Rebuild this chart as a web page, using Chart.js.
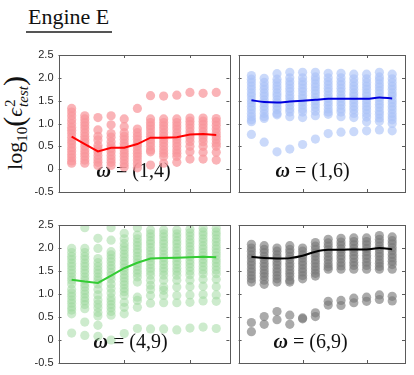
<!DOCTYPE html>
<html>
<head>
<meta charset="utf-8">
<script src="https://cdn.jsdelivr.net/npm/chart.js@4.4.0/dist/chart.umd.min.js"></script>
<style>
body { margin:0; background:#fff; }
#lienzo { position:relative; width:414px; height:375px; overflow:hidden; font-family:"Liberation Serif", serif; color:#111; }
canvas { position:absolute; }
#titulo { position:absolute; left:26px; top:4px; font-size:22px; line-height:26px; padding:0 3px 1px 2px; border-bottom:2px solid #555; }
#ejeY { position:absolute; left:18px; top:123px; width:0; height:0; }
#ejeY div { position:absolute; white-space:nowrap; font-size:22px; line-height:30px; transform:translate(-50%,-50%) rotate(-90deg); }
#ejeY sub { font-size:15px; vertical-align:-5px; }
.par { font-size:30px; vertical-align:-2px; }
.ss { display:inline-block; vertical-align:-6px; font-size:15px; line-height:13px; text-align:left; margin-left:1px; }
.ss span { display:block; }
</style>
</head>
<body>
<div id="lienzo">
  <div id="titulo">Engine E</div>
  <div id="ejeY"><div>log<sub>10</sub><span class="par">(</span><i>ϵ</i><span class="ss"><span>2</span><span><i>test</i></span></span><span class="par">)</span></div></div>
  <canvas id="g1" width="234" height="165" style="left:0;top:40px"></canvas>
  <canvas id="g2" width="180" height="165" style="left:234px;top:40px"></canvas>
  <canvas id="g3" width="234" height="165" style="left:0;top:210px"></canvas>
  <canvas id="g4" width="180" height="165" style="left:234px;top:210px"></canvas>
</div>
<script>
// Columnas (eje x) y marcas
const columnas = [1, 2, 3, 4, 5, 6, 7, 8, 9, 10, 11, 12];
const ticksY = [-0.5, 0, 0.5, 1, 1.5, 2, 2.5];
const ticksX = [5, 10];

// omega = (1,4)
const puntosRojo = [
    [1.33, 1.25, 1.17, 1.08, 1.0, 0.92, 0.85, 0.78, 0.7, 0.62, 0.55, 0.47, 0.4, 0.32, 0.25, 0.18, 0.13],
    [1.17, 1.1, 1.02, 0.95, 0.88, 0.8, 0.72, 0.65, 0.58, 0.5, 0.42, 0.35, 0.28, 0.2, 0.13],
    [1.13, 0.86, 0.72, 0.64, 0.52, 0.45, 0.38, 0.3, 0.22, 0.15, 0.08],
    [1.17, 0.97, 0.78, 0.7, 0.6, 0.52, 0.45, 0.38, 0.3, 0.22, 0.15, 0.08],
    [1.1, 0.93, 0.8, 0.72, 0.65, 0.57, 0.5, 0.42, 0.35, 0.28, 0.2, 0.12, 0.05],
    [1.33, 0.88, 0.8, 0.72, 0.65, 0.57, 0.5, 0.42, 0.35, 0.28, 0.2, 0.12, 0.03],
    [1.61, 1.1, 1.02, 0.95, 0.88, 0.8, 0.72, 0.65, 0.58, 0.5, 0.42, 0.38, 0.09],
    [1.6, 1.1, 1.02, 0.95, 0.88, 0.8, 0.72, 0.65, 0.58, 0.5, 0.42, 0.35, 0.28, 0.13],
    [1.62, 1.1, 1.02, 0.95, 0.88, 0.8, 0.72, 0.65, 0.58, 0.5, 0.42, 0.35, 0.28, 0.15],
    [1.68, 1.12, 1.05, 0.98, 0.9, 0.82, 0.75, 0.68, 0.6, 0.5, 0.38, 0.22],
    [1.66, 1.12, 1.05, 0.98, 0.9, 0.82, 0.75, 0.68, 0.6, 0.5, 0.37, 0.22],
    [1.68, 1.11, 1.04, 0.96, 0.88, 0.8, 0.72, 0.65, 0.57, 0.5, 0.37, 0.2]
];
const lineaRojo = [0.71, 0.55, 0.39, 0.47, 0.47, 0.55, 0.69, 0.69, 0.7, 0.76, 0.77, 0.75];

// omega = (1,6)
const puntosAzul = [
    [2.05, 1.97, 1.9, 1.82, 1.75, 1.67, 1.6, 1.52, 1.45, 1.37, 1.3, 1.22, 1.15, 1.08, 1.04, 0.76],
    [1.99, 1.9, 1.82, 1.75, 1.67, 1.6, 1.52, 1.45, 1.37, 1.3, 1.22, 1.15, 1.11, 0.59],
    [2.09, 1.97, 1.9, 1.82, 1.75, 1.67, 1.6, 1.52, 1.45, 1.37, 1.3, 1.22, 1.19, 0.38],
    [2.12, 2.0, 1.92, 1.85, 1.77, 1.7, 1.62, 1.55, 1.47, 1.4, 1.32, 1.25, 1.15, 0.44],
    [2.12, 2.0, 1.92, 1.85, 1.77, 1.7, 1.62, 1.55, 1.47, 1.4, 1.32, 1.25, 1.13, 0.54],
    [2.12, 2.02, 1.95, 1.87, 1.8, 1.72, 1.65, 1.57, 1.5, 1.42, 1.35, 1.27, 1.17, 0.66],
    [2.1, 2.0, 1.92, 1.85, 1.77, 1.7, 1.62, 1.55, 1.47, 1.4, 1.32, 1.25, 1.2, 0.78],
    [2.1, 2.0, 1.92, 1.85, 1.77, 1.7, 1.62, 1.55, 1.47, 1.4, 1.32, 1.25, 1.15, 0.81],
    [2.08, 1.98, 1.9, 1.82, 1.75, 1.67, 1.6, 1.52, 1.45, 1.37, 1.3, 1.22, 1.13, 0.82],
    [2.08, 1.98, 1.9, 1.82, 1.75, 1.67, 1.6, 1.52, 1.45, 1.37, 1.3, 1.22, 1.14, 1.04, 0.84],
    [2.12, 2.02, 1.95, 1.87, 1.8, 1.72, 1.65, 1.57, 1.5, 1.42, 1.35, 1.27, 1.2, 1.12, 1.05, 0.86],
    [2.08, 1.98, 1.9, 1.82, 1.75, 1.67, 1.6, 1.52, 1.45, 1.37, 1.3, 1.22, 1.15, 1.08, 1.0, 0.84]
];
const lineaAzul = [1.51, 1.47, 1.46, 1.48, 1.5, 1.52, 1.54, 1.54, 1.54, 1.54, 1.57, 1.55];

// omega = (4,9)
const puntosVerde = [
    [1.99, 1.9, 1.82, 1.75, 1.67, 1.6, 1.52, 1.45, 1.37, 1.3, 1.22, 1.1, 1.02, 0.95, 0.87, 0.8, 0.72, 0.65, 0.57, 0.15],
    [2.44, 1.99, 1.9, 1.82, 1.75, 1.67, 1.6, 1.52, 1.45, 1.37, 1.3, 1.22, 1.15, 1.07, 1.0, 0.92, 0.85, 0.77, 0.68, 0.39, 0.1],
    [2.21, 1.99, 1.77, 1.68, 1.6, 1.52, 1.45, 1.37, 1.3, 1.22, 1.1, 0.98, 0.87, 0.78, 0.7, 0.6, 0.52, 0.32, 0.08],
    [2.44, 2.17, 1.92, 1.85, 1.77, 1.7, 1.62, 1.55, 1.47, 1.4, 1.32, 1.22, 1.12, 1.02, 0.92, 0.85, 0.77, 0.7, 0.62, 0.54, 0.0],
    [2.32, 2.2, 2.1, 2.02, 1.95, 1.87, 1.8, 1.72, 1.65, 1.57, 1.5, 1.42, 1.35, 1.27, 1.2, 1.12, 1.05, 0.97, 0.82, 0.71, 0.57, 0.14],
    [2.44, 2.28, 2.2, 2.12, 2.05, 1.97, 1.9, 1.82, 1.75, 1.67, 1.6, 1.52, 1.45, 1.37, 1.26, 0.93, 0.86, 0.71, 0.25],
    [2.39, 2.31, 2.24, 2.16, 2.09, 2.01, 1.94, 1.86, 1.79, 1.71, 1.64, 1.56, 1.49, 1.41, 1.3, 1.19, 1.1, 0.97, 0.8, 0.24],
    [2.39, 2.31, 2.24, 2.16, 2.09, 2.01, 1.94, 1.86, 1.79, 1.71, 1.64, 1.56, 1.49, 1.41, 1.3, 1.15, 1.08, 0.97, 0.81, 0.24],
    [2.39, 2.31, 2.24, 2.16, 2.09, 2.01, 1.94, 1.86, 1.79, 1.71, 1.64, 1.56, 1.49, 1.41, 1.3, 1.15, 0.97, 0.81, 0.22],
    [2.41, 2.33, 2.26, 2.18, 2.11, 2.03, 1.96, 1.88, 1.81, 1.73, 1.66, 1.58, 1.5, 1.42, 1.3, 1.16, 0.98, 0.82, 0.26],
    [2.43, 2.35, 2.28, 2.2, 2.13, 2.05, 1.98, 1.9, 1.83, 1.75, 1.68, 1.6, 1.52, 1.44, 1.32, 1.17, 0.99, 0.85, 0.28],
    [2.43, 2.35, 2.28, 2.2, 2.13, 2.05, 1.98, 1.9, 1.83, 1.75, 1.68, 1.6, 1.52, 1.44, 1.32, 1.16, 0.98, 0.84, 0.25]
];
const lineaVerde = [1.31, 1.27, 1.24, 1.4, 1.56, 1.68, 1.77, 1.78, 1.79, 1.8, 1.81, 1.8];

// omega = (6,9)
const puntosGris = [
    [2.08, 2.0, 1.93, 1.85, 1.78, 1.7, 1.63, 1.55, 1.48, 1.4, 1.33, 1.26, 0.38, 0.18],
    [2.05, 1.97, 1.9, 1.82, 1.75, 1.67, 1.6, 1.52, 1.45, 1.38, 1.3, 1.21, 0.51, 0.34],
    [2.0, 1.93, 1.85, 1.78, 1.7, 1.63, 1.55, 1.48, 1.4, 1.33, 1.26, 0.62, 0.44],
    [2.05, 1.97, 1.9, 1.82, 1.75, 1.67, 1.6, 1.52, 1.45, 1.38, 1.3, 1.26, 0.54, 0.34],
    [2.0, 1.93, 1.85, 1.78, 1.7, 1.63, 1.55, 1.48, 1.4, 1.33, 0.48, 0.46],
    [2.12, 2.04, 1.97, 1.89, 1.82, 1.74, 1.67, 1.59, 1.52, 1.45, 1.39, 0.59, 0.51],
    [2.19, 2.11, 2.04, 1.96, 1.89, 1.81, 1.74, 1.66, 1.59, 1.54, 0.84, 0.76],
    [2.21, 2.13, 2.06, 1.98, 1.91, 1.83, 1.76, 1.68, 1.61, 1.54, 0.86, 0.75],
    [2.22, 2.14, 2.07, 1.99, 1.92, 1.84, 1.77, 1.69, 1.62, 1.54, 0.91, 0.81],
    [2.22, 2.14, 2.07, 1.99, 1.92, 1.84, 1.77, 1.69, 1.62, 1.54, 0.93, 0.84],
    [2.27, 2.19, 2.12, 2.04, 1.97, 1.89, 1.82, 1.74, 1.67, 1.6, 1.54, 0.98, 0.88],
    [2.24, 2.16, 2.09, 2.01, 1.94, 1.86, 1.79, 1.71, 1.64, 1.54, 0.95, 0.85]
];
const lineaGris = [1.81, 1.78, 1.77, 1.78, 1.83, 1.92, 1.96, 1.96, 1.97, 1.97, 2.0, 1.97];

document.addEventListener('DOMContentLoaded', function() {
    iniciarApp();
});

function iniciarApp() {
    graficarPanel('g1', puntosRojo, lineaRojo, 'rgba(248,150,155,0.72)', '#ff0000', '(1,4)', true, 38);
    graficarPanel('g2', puntosAzul, lineaAzul, 'rgba(170,194,247,0.62)', '#0000dd', '(1,6)', false, 37);
    graficarPanel('g3', puntosVerde, lineaVerde, 'rgba(155,215,155,0.5)', '#33cc33', '(4,9)', true, 35);
    graficarPanel('g4', puntosGris, lineaGris, 'rgba(120,120,120,0.63)', '#000000', '(6,9)', false, 35);
}

// Marco completo, marcas hacia adentro y la etiqueta omega
const marco = {
    id: 'marco',
    beforeDatasetsDraw(chart, args, opts) {
        const ctx = chart.ctx;
        const a = chart.chartArea;
        ctx.save();
        ctx.fillStyle = '#111';
        let x = a.left + opts.dx;
        const y = a.bottom - 15;
        ctx.font = 'bold italic 20px "Liberation Serif"';
        ctx.fillText('ω', x, y);
        x += ctx.measureText('ω').width;
        ctx.font = '20px "Liberation Serif"';
        ctx.fillText(' = ' + opts.texto, x, y);
        ctx.restore();
    },
    afterDraw(chart) {
        const ctx = chart.ctx;
        const a = chart.chartArea;
        const sx = chart.scales.x;
        const sy = chart.scales.y;
        ctx.save();
        ctx.strokeStyle = '#5a5a5a';
        ctx.lineWidth = 1;
        ctx.strokeRect(Math.round(a.left) + 0.5, Math.round(a.top) + 0.5,
            Math.round(a.right - a.left), Math.round(a.bottom - a.top));
        ctx.beginPath();
        ticksY.forEach(v => {
            const py = Math.round(sy.getPixelForValue(v)) + 0.5;
            ctx.moveTo(a.left, py); ctx.lineTo(a.left + 3, py);
            ctx.moveTo(a.right, py); ctx.lineTo(a.right - 3, py);
        });
        ticksX.forEach(v => {
            const px = Math.round(sx.getPixelForValue(v)) + 0.5;
            ctx.moveTo(px, a.top); ctx.lineTo(px, a.top + 3);
            ctx.moveTo(px, a.bottom); ctx.lineTo(px, a.bottom - 3);
        });
        ctx.stroke();
        ctx.restore();
    }
};

function graficarPanel(id, puntos, linea, colorPunto, colorLinea, texto, conEjeY, dx) {
    const datosPuntos = [];
    puntos.forEach((col, i) => {
        col.forEach(v => datosPuntos.push({ x: columnas[i], y: v }));
    });
    const datosLinea = linea.map((v, i) => ({ x: columnas[i], y: v }));
    const suave = (id === 'g2' || id === 'g4');

    const ejeY = {
        type: 'linear', min: -0.5, max: 2.5,
        display: conEjeY,
        grid: { display: false, drawTicks: false },
        border: { display: false },
        ticks: {
            stepSize: 0.5,
            padding: 5,
            color: '#262626',
            font: { family: 'Liberation Sans', size: 11 }
        }
    };
    if (conEjeY) {
        ejeY.afterFit = s => { s.width = 58.5; };
    }

    const ctx = document.getElementById(id).getContext('2d');
    new Chart(ctx, {
        type: 'scatter',
        data: {
            datasets: [{
                data: datosLinea,
                showLine: true,
                borderColor: colorLinea,
                borderWidth: 2,
                pointRadius: 0,
                tension: suave ? 0.4 : 0,
                cubicInterpolationMode: suave ? 'monotone' : 'default'
            }, {
                data: datosPuntos,
                backgroundColor: colorPunto,
                borderWidth: 0,
                pointRadius: 4.6
            }]
        },
        options: {
            responsive: false,
            animation: false,
            devicePixelRatio: 1,
            events: [],
            layout: {
                padding: conEjeY ? { left: 0, right: 2, top: 15, bottom: id === 'g1' ? 13 : 12 }
                                 : { left: 1, right: 9, top: 15, bottom: id === 'g2' ? 13 : 12 }
            },
            plugins: {
                legend: { display: false },
                tooltip: { enabled: false },
                marco: { texto: texto, dx: dx }
            },
            scales: {
                x: { type: 'linear', min: 0, max: 13, display: false },
                y: ejeY
            }
        },
        plugins: [marco]
    });
}
</script>
</body>
</html>
